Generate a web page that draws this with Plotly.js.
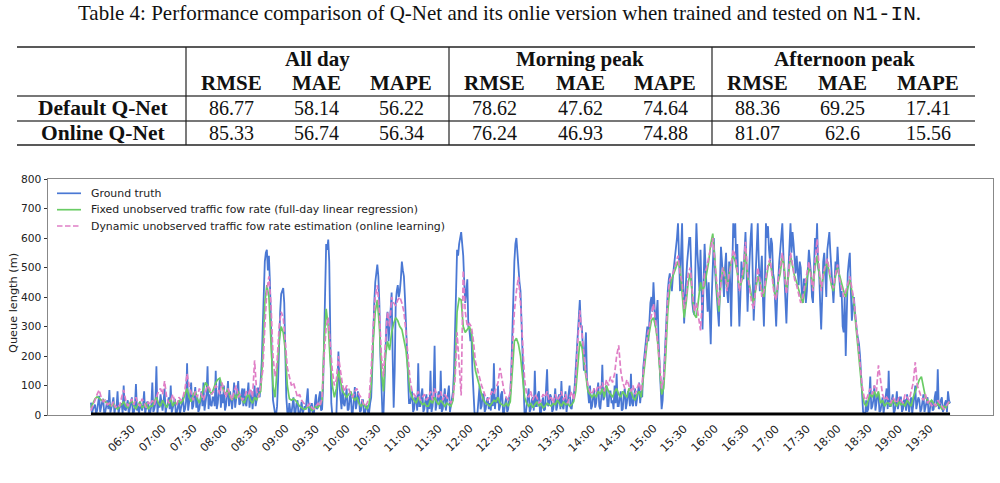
<!DOCTYPE html>
<html><head><meta charset="utf-8">
<script src="https://cdn.plot.ly/plotly-3.0.1.min.js"></script>
<style>html,body{margin:0;padding:0;background:#fff;} #chart{width:1000px;height:483px;}</style>
</head><body><div id="chart"></div>
<script>
// ---------- table data ----------
const captionPrefix = 'Table 4: Performance comparison of Q-Net and its onlie version when trained and tested on ';
const captionCode = 'N1-IN';
const groupHeaders = ['All day', 'Morning peak', 'Afternoon peak'];
const metricHeaders = ['RMSE', 'MAE', 'MAPE'];
const rowLabels = ['Default Q-Net', 'Online Q-Net'];
const defaultQNet = ['86.77', '58.14', '56.22', '78.62', '47.62', '74.64', '88.36', '69.25', '17.41'];
const onlineQNet  = ['85.33', '56.74', '56.34', '76.24', '46.93', '74.88', '81.07', '62.6', '15.56'];

// ---------- chart data (06:00 to 20:00) ----------
const startMinute = 360;
const truthStepMinutes = 1;   // ground truth sampled every minute
const modelStepMinutes = 2;   // model outputs sampled every 2 minutes
const seriesNames = [
  'Ground truth',
  'Fixed unobserved traffic fow rate (full-day linear regression)',
  'Dynamic unobserved traffic fow rate estimation (online learning)'
];
const groundTruth = [
  42,5,20,30,35,3,15,40,65,10,30,45,55,2,10,35,50,20,85,8,20,40,60,5,30,25,80,4,25,30,
  40,5,100,20,15,35,50,3,20,40,60,6,10,30,105,15,30,4,45,25,15,35,80,5,25,45,40,2,10,30,
  110,10,20,40,165,5,40,25,70,30,15,45,90,4,30,35,60,20,100,8,20,40,55,3,10,30,45,5,25,40,
  60,10,20,45,175,15,40,70,110,20,30,60,95,25,60,10,20,50,80,30,110,15,40,70,165,20,70,35,30,60,
  60,30,150,20,40,80,120,25,70,40,100,15,30,70,115,30,80,50,20,60,110,25,60,90,115,35,40,70,90,30,
  90,40,30,70,110,25,60,80,20,50,100,30,50,90,90,60,120,180,300,420,520,550,560,490,540,450,350,180,50,15,
  5,0,30,120,250,350,410,420,430,380,200,60,10,0,40,10,5,30,60,5,10,40,50,0,0,20,45,5,15,30,
  20,50,90,10,10,30,40,5,5,40,70,20,30,60,80,15,20,100,300,480,580,560,595,520,200,40,0,0,0,0,
  5,120,215,100,60,20,100,40,30,70,90,15,20,60,70,10,10,50,95,20,40,80,60,10,15,50,50,5,5,30,
  30,10,10,40,60,150,300,380,450,480,510,470,380,200,60,5,0,100,250,320,350,250,300,380,415,200,25,150,380,420,
  440,400,420,460,520,490,470,400,300,200,120,40,40,70,80,10,20,60,60,15,175,30,30,70,90,10,20,50,70,5,
  60,20,150,10,30,80,235,15,40,60,80,20,150,10,20,60,90,15,40,70,100,10,30,60,80,150,250,420,560,540,
  580,600,620,580,540,450,380,420,460,300,290,250,280,150,60,10,0,0,10,60,100,20,30,70,70,10,20,50,60,20,
  40,15,90,30,175,20,60,40,100,15,30,70,80,5,10,40,60,10,20,60,70,150,300,420,520,580,600,550,480,450,
  420,300,200,50,0,0,30,60,90,10,20,50,60,15,150,30,30,70,80,10,10,40,60,15,20,90,155,30,40,70,
  60,10,20,50,90,15,30,60,70,20,115,30,20,50,80,10,40,70,100,25,20,50,60,100,150,200,250,330,390,300,
  300,200,150,220,280,120,60,40,100,20,30,70,90,25,40,80,110,30,20,60,170,50,60,90,100,30,30,80,80,40,
  50,20,100,40,140,30,30,60,80,15,20,70,90,20,40,80,70,30,140,40,30,60,90,30,50,80,110,40,80,60,
  160,200,220,260,300,250,330,380,400,350,450,380,300,340,390,250,150,60,20,50,120,200,300,380,420,460,480,440,420,470,
  500,540,560,600,650,500,420,550,650,450,310,400,480,520,560,600,600,450,380,350,340,500,650,550,480,420,560,450,290,450,
  580,500,400,350,450,330,240,400,540,600,500,450,420,350,300,450,570,520,470,400,500,550,420,380,520,450,300,500,650,600,
  650,500,580,420,300,400,520,480,460,550,620,500,350,450,540,600,650,450,320,400,500,580,650,520,420,480,540,400,300,450,
  650,600,640,560,520,600,580,480,460,380,300,400,480,520,560,600,650,550,480,380,310,420,500,600,650,550,620,580,520,480,
  540,480,440,520,500,420,380,460,460,380,420,500,560,520,480,400,380,500,600,550,650,500,480,380,290,400,520,550,460,400,
  560,600,620,550,480,420,380,450,520,480,570,500,450,400,420,300,280,400,200,350,480,520,550,420,320,360,400,350,300,280,
  260,240,200,120,60,10,5,0,50,10,20,60,130,20,30,50,100,15,40,70,70,10,15,40,60,5,30,60,90,20,
  150,30,30,50,70,5,15,40,80,20,40,60,60,10,20,50,50,15,70,30,10,40,60,5,30,60,100,20,40,60,
  50,10,20,40,70,10,30,50,60,5,10,40,50,15,20,60,80,30,155,20,30,50,60,10,20,40,50,10,80,50,
  40
];
const fixedRate = [
  25,40,55,62,58,50,52,45,40,35,30,38,25,20,30,
  35,45,30,25,40,50,30,20,35,45,25,30,40,20,30,
  30,45,60,40,30,50,35,25,40,55,30,45,35,50,40,
  50,70,90,60,45,70,80,55,40,65,90,110,100,80,70,
  90,110,120,125,100,80,70,90,60,50,70,55,80,60,50,
  40,60,70,50,40,60,50,70,80,200,380,440,400,250,100,
  60,150,250,300,280,220,100,55,50,55,50,40,30,25,20,
  20,30,25,15,20,30,25,35,50,250,360,300,180,100,60,
  90,150,120,80,70,60,70,80,60,50,60,40,30,40,30,
  20,40,100,250,350,390,300,150,80,200,250,220,280,310,330,
  320,300,290,260,220,150,80,60,50,40,60,45,35,40,30,
  30,50,40,60,45,35,50,40,30,40,35,30,50,150,350,
  395,390,300,280,290,300,280,200,150,120,100,70,50,40,35,
  30,40,50,45,60,40,35,30,40,30,45,150,250,260,240,
  200,120,60,40,30,40,25,35,45,30,40,25,30,40,35,
  30,40,35,50,40,30,45,35,40,30,35,45,80,180,250,
  230,180,120,80,70,60,70,60,80,70,90,60,100,80,70,
  60,80,90,70,60,80,70,60,90,80,60,50,70,80,60,
  120,200,250,280,320,330,300,250,150,70,90,200,350,430,460,
  480,500,520,500,420,330,380,450,480,420,340,330,400,450,420,
  440,480,520,580,615,530,420,350,450,500,480,430,470,520,540,
  520,480,430,450,480,560,470,440,400,380,420,470,450,420,400,
  450,500,520,480,420,400,450,480,540,500,420,470,540,500,470,
  450,420,400,380,420,460,500,480,430,500,540,480,430,470,500,
  520,480,440,420,470,500,470,440,420,400,430,460,420,380,300,
  220,150,80,40,30,50,70,60,80,60,80,40,50,30,40,
  40,30,50,40,30,45,35,40,30,50,40,30,60,80,100,
  120,130,90,60,50,40,50,40,30,40,30,20,30,25,40,
  40
];
const dynamicRate = [
  15,30,50,70,85,60,45,50,35,40,30,45,25,35,30,
  60,85,50,30,40,55,35,60,40,30,55,40,25,45,35,
  50,35,60,80,90,70,115,60,40,50,70,45,35,60,50,
  60,90,140,100,70,50,80,60,90,70,50,80,100,90,70,
  80,100,90,70,110,80,60,90,70,50,80,100,60,70,50,
  60,80,70,90,60,185,80,60,100,150,300,420,470,380,200,
  130,180,300,350,330,250,160,130,100,110,80,60,70,50,40,
  35,30,40,25,20,30,40,30,60,200,300,330,250,150,100,
  120,200,150,100,80,100,90,70,60,80,90,70,60,40,30,
  40,60,150,300,400,440,350,200,130,250,350,300,400,380,370,
  390,400,380,350,280,200,120,80,70,60,80,50,60,70,50,
  60,80,50,90,70,60,80,50,70,60,50,40,60,120,280,
  160,66,490,350,300,310,300,250,180,150,120,100,80,60,50,
  60,80,70,90,110,160,120,80,60,50,80,200,350,420,468,
  380,250,120,70,60,80,50,70,60,40,50,70,60,80,50,
  60,40,70,50,60,80,50,70,40,60,80,50,120,250,355,
  280,200,140,100,80,70,90,80,100,90,110,80,120,100,130,
  110,140,200,236,150,110,90,120,100,80,100,70,90,110,80,
  150,220,270,300,340,377,320,260,180,90,120,250,400,460,470,
  490,520,540,480,450,360,400,480,500,420,350,380,330,287,400,
  480,500,530,560,600,520,430,370,450,500,470,420,480,510,560,
  540,490,420,460,500,587,480,430,380,360,430,500,460,400,420,
  470,510,530,470,410,390,460,500,550,480,410,480,550,510,460,
  440,410,380,400,440,480,520,470,420,520,596,500,420,480,510,
  530,490,450,430,480,510,460,430,400,420,450,470,430,390,320,
  240,160,100,60,50,70,90,70,100,80,168,120,70,50,60,
  50,40,60,50,40,60,50,40,70,60,50,80,110,179,100,
  80,60,50,70,40,50,30,40,30,50,40,30,20,30,40,
  50
];
const baselineValues = [0, 0];
const tickLabels = ['06:30','07:00','07:30','08:00','08:30','09:00','09:30','10:00','10:30','11:00',
  '11:30','12:00','12:30','13:00','13:30','14:00','14:30','15:00','15:30','16:00','16:30','17:00',
  '17:30','18:00','18:30','19:00','19:30'];
const yTitle = 'Queue length (m)';

// ---------- helpers ----------
const DAY = '2021-01-01 ';
const pad = n => String(n).padStart(2, '0');
const stamp = m => DAY + pad(Math.floor(m / 60)) + ':' + pad(m % 60);
const truthTimes = groundTruth.map((_, i) => stamp(startMinute + i * truthStepMinutes));
const modelTimes = fixedRate.map((_, i) => stamp(startMinute + i * modelStepMinutes));

const W = 1000, H = 483;
const PL = 48, PR = 993, PT = 179, PB = 415;
const px = x => (x - PL) / (PR - PL);
const py = y => (PB - y) / (PB - PT);

const colors = ['#4a78d4', '#6acc65', '#e07fc6'];
const dashes = ['solid', 'solid', '5.5px,2.5px'];

const traces = [
  {x: truthTimes, y: groundTruth, type: 'scatter', mode: 'lines', name: seriesNames[0],
   line: {color: colors[0], width: 1.8}, showlegend: false},
  {x: modelTimes, y: fixedRate, type: 'scatter', mode: 'lines', name: seriesNames[1],
   line: {color: colors[1], width: 1.7}, showlegend: false},
  {x: modelTimes, y: dynamicRate, type: 'scatter', mode: 'lines', name: seriesNames[2],
   line: {color: colors[2], width: 1.7, dash: dashes[2]}, showlegend: false},
  {x: [truthTimes[0], truthTimes[truthTimes.length - 1]], y: baselineValues, type: 'scatter', mode: 'lines',
   line: {color: '#000', width: 5}, showlegend: false, hoverinfo: 'skip'}
];

const serif = 'Liberation Serif, Times New Roman, serif';
const sans = 'DejaVu Sans, sans-serif';
const annotations = [];
const shapes = [];

// caption
annotations.push({xref: 'paper', yref: 'paper', x: px(499), y: py(13), xanchor: 'center', yanchor: 'middle',
  showarrow: false, font: {family: serif, size: 21, color: '#111'},
  text: captionPrefix + '<span style="font-family:\'Liberation Mono\',monospace">' + captionCode + '</span>.'});

// table layout
const colX = [231, 316, 401, 494, 580, 665, 757, 842, 928];
const groupX = [317, 580, 844];
const labelX = 103;
const rowY = [107.5, 133];
groupHeaders.forEach((g, i) => annotations.push({xref: 'paper', yref: 'paper', x: px(groupX[i]), y: py(59),
  xanchor: 'center', yanchor: 'middle', showarrow: false, text: '<b>' + g + '</b>',
  font: {family: serif, size: 21, color: '#111'}}));
colX.forEach((cx, i) => annotations.push({xref: 'paper', yref: 'paper', x: px(cx), y: py(83),
  xanchor: 'center', yanchor: 'middle', showarrow: false, text: '<b>' + metricHeaders[i % 3] + '</b>',
  font: {family: serif, size: 21, color: '#111'}}));
[defaultQNet, onlineQNet].forEach((row, r) => {
  annotations.push({xref: 'paper', yref: 'paper', x: px(labelX), y: py(rowY[r]), xanchor: 'center',
    yanchor: 'middle', showarrow: false, text: '<b>' + rowLabels[r] + '</b>',
    font: {family: serif, size: 21.5, color: '#111'}});
  row.forEach((v, i) => annotations.push({xref: 'paper', yref: 'paper', x: px(colX[i]), y: py(rowY[r]),
    xanchor: 'center', yanchor: 'middle', showarrow: false, text: v,
    font: {family: serif, size: 20, color: '#111'}}));
});
const hline = (y, color, w) => shapes.push({type: 'line', xref: 'paper', yref: 'paper',
  x0: px(17), x1: px(975), y0: py(y), y1: py(y), line: {color: color, width: w}});
hline(47, '#222', 1.5);
hline(96, '#777', 1.8);
hline(121, '#777', 1.8);
hline(145, '#222', 1.5);
[186, 449, 712].forEach(x => shapes.push({type: 'line', xref: 'paper', yref: 'paper',
  x0: px(x), x1: px(x), y0: py(47), y1: py(145), line: {color: '#222', width: 1.2}}));

// legend (custom)
const legY = [193.3, 209.7, 226];
seriesNames.forEach((n, i) => {
  shapes.push({type: 'line', xref: 'paper', yref: 'paper', x0: px(57), x1: px(81), y0: py(legY[i]), y1: py(legY[i]),
    line: {color: colors[i], width: 1.7, dash: dashes[i]}});
  annotations.push({xref: 'paper', yref: 'paper', x: px(89), y: py(legY[i]), xanchor: 'left', yanchor: 'middle',
    showarrow: false, text: n, font: {family: sans, size: 10.9, color: '#222'}});
});

// y title
annotations.push({xref: 'paper', yref: 'paper', x: px(13), y: py(303), xanchor: 'center', yanchor: 'middle',
  showarrow: false, textangle: -90, text: yTitle, font: {family: sans, size: 11.3, color: '#222'}});

// rotated x tick labels
tickLabels.forEach(t => annotations.push({xref: 'x', yref: 'paper', x: DAY + t, y: py(438),
  xanchor: 'center', yanchor: 'middle', showarrow: false, textangle: -45, text: t,
  font: {family: sans, size: 11.3, color: '#222'}}));

const layout = {
  width: W, height: H,
  margin: {l: PL, r: W - PR, t: PT, b: H - PB, pad: 0},
  paper_bgcolor: '#fff', plot_bgcolor: '#fff',
  showlegend: false,
  xaxis: {type: 'date', range: [DAY + '05:18', DAY + '20:42'], showticklabels: false, ticks: '',
    showgrid: false, zeroline: false, showline: true, mirror: true, linecolor: '#888', linewidth: 1},
  yaxis: {range: [0, 800], dtick: 100, tick0: 0, ticks: 'outside', ticklen: 3.5, tickwidth: 1, tickcolor: '#333',
    tickfont: {family: sans, size: 10.7, color: '#222'}, showgrid: false, zeroline: false,
    showline: true, mirror: true, linecolor: '#888', linewidth: 1},
  annotations: annotations,
  shapes: shapes
};

Plotly.newPlot('chart', traces, layout, {staticPlot: true, displayModeBar: false});
</script>
</body></html>
